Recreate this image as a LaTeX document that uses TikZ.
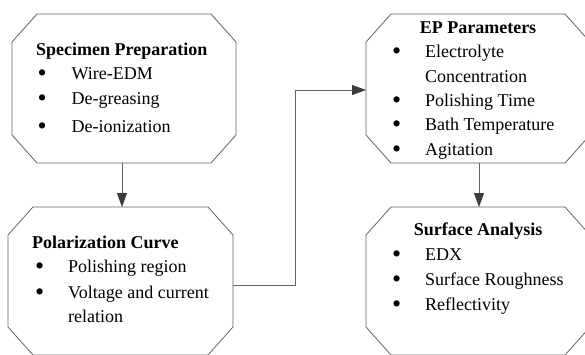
\documentclass[tikz,border=0pt]{standalone}
\usepackage{fontspec}
\setmainfont{Liberation Serif}
\usetikzlibrary{arrows.meta}
\definecolor{edge}{RGB}{100,100,100}
\definecolor{tipcol}{RGB}{60,60,60}
\newcommand\octobox[1]{%
  \draw[outline] ([xshift=25pt]#1.north west) -- ([xshift=-25pt]#1.north east)
    -- ([yshift=-28pt]#1.north east) -- ([yshift=28pt]#1.south east)
    -- ([xshift=-25pt]#1.south east) -- ([xshift=25pt]#1.south west)
    -- ([yshift=28pt]#1.south west) -- ([yshift=-28pt]#1.north west) -- cycle;}
\begin{document}
\begin{tikzpicture}[x=1pt,y=-1pt,
  frame/.style={minimum width=224pt,minimum height=149pt,inner sep=0pt,outer sep=0pt,draw=none},
  outline/.style={draw=edge,line width=0.8pt,line join=miter},
  conn/.style={draw=edge,line width=0.8pt,-{Triangle[length=14pt,width=10pt,color=tipcol]}},
  txt/.style={anchor=base west,inner sep=0pt,font=\fontsize{18}{22}\selectfont},
  bul/.style={anchor=base west,inner sep=0pt,yshift=-2pt,xshift=-1pt,font=\fontsize{26}{26}\selectfont},
  head/.style={inner sep=0pt,font=\fontsize{18}{22}\selectfont\bfseries}]
\useasboundingbox (0,0) rectangle (585,354);
\clip (0,0) rectangle (585,354);
\fill[white] (0,0) rectangle (585,354);
% frames
\node[frame] (b1) at (124,88.5) {};
\node[frame,minimum width=225pt,minimum height=148pt] (b2) at (120.5,281) {};
\node[frame] (b3) at (478,88.5) {};
\node[frame,minimum height=148pt] (b4) at (478,281) {};
\octobox{b1}
\octobox{b2}
\octobox{b3}
\octobox{b4}
% box 1
\node[head,anchor=base west] (h1) at (36,55) {Specimen Preparation};
\node[bul] (b1d1) at (38.5,79) {\textbullet};
\node[txt] (b1t1) at (71.5,79) {Wire-EDM};
\node[bul] (b1d2) at (38.5,104) {\textbullet};
\node[txt] (b1t2) at (71.5,104) {De-greasing};
\node[bul] (b1d3) at (38.5,132) {\textbullet};
\node[txt] (b1t3) at (71.5,132) {De-ionization};
% box 2
\node[head,anchor=base west] (h2) at (32,248.5) {Polarization Curve};
\node[bul] (b2d1) at (36,272) {\textbullet};
\node[txt] (b2t1) at (68,272) {Polishing region};
\node[bul] (b2d2) at (36,298) {\textbullet};
\node[txt] (b2t2) at (68,298) {Voltage and current};
\node[txt] (b2t3) at (68,322) {relation};
% box 3
\node[head,anchor=base] (h3) at (478,33) {EP Parameters};
\node[bul] (b3d1) at (393,57.5) {\textbullet};
\node[txt] (b3t1) at (425,57.5) {Electrolyte};
\node[txt] (b3t2) at (425,82) {Concentration};
\node[bul] (b3d3) at (393,106) {\textbullet};
\node[txt] (b3t3) at (425,106) {Polishing Time};
\node[bul] (b3d4) at (393,130) {\textbullet};
\node[txt] (b3t4) at (425,130) {Bath Temperature};
\node[bul] (b3d5) at (393,155) {\textbullet};
\node[txt] (b3t5) at (425,155) {Agitation};
% box 4
\node[head,anchor=base] (h4) at (478,235) {Surface Analysis};
\node[bul] (b4d1) at (393,260.5) {\textbullet};
\node[txt] (b4t1) at (425,260.5) {EDX};
\node[bul] (b4d2) at (393,285) {\textbullet};
\node[txt] (b4t2) at (425,285) {Surface Roughness};
\node[bul] (b4d3) at (393,310) {\textbullet};
\node[txt] (b4t3) at (425,310) {Reflectivity};
% connectors
\draw[conn] ([xshift=-2pt]b1.south) -- ([xshift=-2pt]b1.south |- b2.north);
\draw[conn] ([yshift=-4pt]b2.east) -- ++(62,0) |- ([yshift=-1.5pt]b3.west);
\draw[conn] ([xshift=1pt]b3.south) -- ([xshift=1pt]b3.south |- b4.north);
\end{tikzpicture}
\end{document}
